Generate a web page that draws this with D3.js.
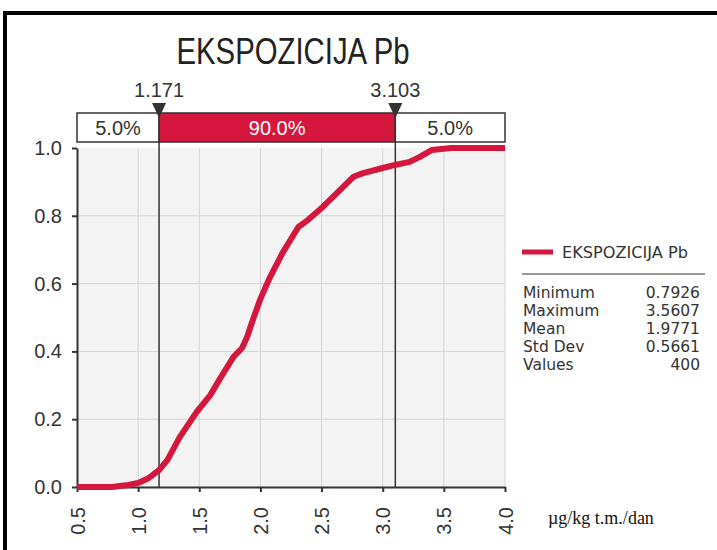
<!DOCTYPE html>
<html>
<head>
<meta charset="utf-8">
<script src="https://cdn.jsdelivr.net/npm/d3@7"></script>
<style>
  body { margin: 0; background: #fff; }
  svg { display: block; font-family: "Liberation Sans", Arial, sans-serif; }
</style>
</head>
<body>
<svg id="chart" width="717" height="550"></svg>
<script>
// cumulative curve
const cdfX = [0.5, 0.79, 0.85, 0.92, 1.0, 1.08, 1.171, 1.24, 1.34, 1.42, 1.48, 1.59, 1.67, 1.78, 1.85, 1.89, 1.94, 2.0, 2.08, 2.18, 2.31, 2.39, 2.51, 2.65, 2.76, 2.84, 3.0, 3.1, 3.22, 3.30, 3.40, 3.48, 3.56, 4.0];
const cdfP = [0, 0, 0.003, 0.006, 0.012, 0.025, 0.05, 0.08, 0.147, 0.19, 0.222, 0.271, 0.32, 0.384, 0.41, 0.442, 0.495, 0.555, 0.62, 0.69, 0.767, 0.788, 0.826, 0.876, 0.915, 0.926, 0.941, 0.95, 0.959, 0.973, 0.994, 0.997, 1.0, 1.0];

const markers = [1.171, 3.103];
const bandLabels = ["5.0%", "90.0%", "5.0%"];
const xTicks = [0.5, 1.0, 1.5, 2.0, 2.5, 3.0, 3.5, 4.0];
const yTicks = [0.0, 0.2, 0.4, 0.6, 0.8, 1.0];

const statNames = ["Minimum", "Maximum", "Mean", "Std Dev", "Values"];
const statValues = ["0.7926", "3.5607", "1.9771", "0.5661", "400"];

const title = "EKSPOZICIJA Pb";
const unit = "µg/kg t.m./dan";

const red = "#d5173d";
const dark = "#333";

var svg = d3.select("#chart");

var x = d3.scaleLinear().domain([0.5, 4.0]).range([77, 505]);
var y = d3.scaleLinear().domain([0, 1]).range([487, 148]);

// frame (top and left only)
svg.append("line").attr("x1", 3).attr("x2", 717).attr("y1", 13).attr("y2", 13)
    .attr("stroke", "#000").attr("stroke-width", 4);
svg.append("line").attr("x1", 5).attr("x2", 5).attr("y1", 11).attr("y2", 550)
    .attr("stroke", "#000").attr("stroke-width", 4);

// title
svg.append("text")
    .attr("x", 293).attr("y", 64)
    .attr("text-anchor", "middle")
    .attr("font-size", 37)
    .attr("textLength", 233)
    .attr("lengthAdjust", "spacingAndGlyphs")
    .attr("fill", "#222")
    .text(title);

// plot background and grid
svg.append("rect")
    .attr("x", x(0.5)).attr("y", y(1))
    .attr("width", x(4) - x(0.5)).attr("height", y(0) - y(1))
    .attr("fill", "#f3f3f3");

svg.append("g").selectAll("line")
    .data(xTicks.slice(1))
    .join("line")
    .attr("x1", d => x(d)).attr("x2", d => x(d))
    .attr("y1", y(1)).attr("y2", y(0))
    .attr("stroke", "#d3d3d3").attr("stroke-width", 1);

svg.append("g").selectAll("line")
    .data(yTicks.slice(1, -1))
    .join("line")
    .attr("x1", x(0.5)).attr("x2", x(4))
    .attr("y1", d => y(d)).attr("y2", d => y(d))
    .attr("stroke", "#d3d3d3").attr("stroke-width", 1);

// axes
var yAxis = svg.append("g")
    .attr("transform", "translate(" + x(0.5) + ",0)")
    .call(d3.axisLeft(y).tickValues(yTicks).tickFormat(d3.format(".1f")).tickSize(5).tickPadding(10).tickSizeOuter(0));
yAxis.select(".domain").attr("stroke", dark).attr("stroke-width", 2);
yAxis.selectAll(".tick line").attr("stroke", dark).attr("stroke-width", 2);
yAxis.selectAll(".tick text").attr("font-size", 20).attr("fill", dark)
    .attr("font-family", "Liberation Sans, Arial, sans-serif");

var xAxis = svg.append("g")
    .attr("transform", "translate(0," + y(0) + ")")
    .call(d3.axisBottom(x).tickValues(xTicks).tickFormat(d3.format(".1f")).tickSize(5).tickSizeOuter(0));
xAxis.select(".domain").attr("stroke", dark).attr("stroke-width", 2);
xAxis.selectAll(".tick line").attr("stroke", dark).attr("stroke-width", 2);
xAxis.selectAll(".tick text")
    .attr("font-size", 20).attr("fill", dark)
    .attr("font-family", "Liberation Sans, Arial, sans-serif")
    .attr("text-anchor", "end")
    .attr("transform", "rotate(-90)")
    .attr("x", -20).attr("y", 0).attr("dy", "0.35em");

// percentile markers
svg.append("g").selectAll("line")
    .data(markers)
    .join("line")
    .attr("x1", d => x(d)).attr("x2", d => x(d))
    .attr("y1", 142).attr("y2", y(0))
    .attr("stroke", dark).attr("stroke-width", 1.5);

// cumulative curve
var pts = cdfX.map((v, i) => [v, cdfP[i]]);
svg.append("path")
    .datum(pts)
    .attr("fill", "none")
    .attr("stroke", red)
    .attr("stroke-width", 6)
    .attr("stroke-linejoin", "round")
    .attr("d", d3.line().x(d => x(d[0])).y(d => y(d[1])));

// band box on top
var edges = [0.5, markers[0], markers[1], 4.0];
var band = svg.append("g");
band.selectAll("rect")
    .data(bandLabels)
    .join("rect")
    .attr("x", (d, i) => x(edges[i]))
    .attr("width", (d, i) => x(edges[i + 1]) - x(edges[i]))
    .attr("y", 113).attr("height", 29)
    .attr("fill", (d, i) => i === 1 ? red : "#fff")
    .attr("stroke", dark).attr("stroke-width", 1.5);
band.selectAll("text")
    .data(bandLabels)
    .join("text")
    .attr("x", (d, i) => (x(edges[i]) + x(edges[i + 1])) / 2)
    .attr("y", 135)
    .attr("text-anchor", "middle")
    .attr("font-size", 20)
    .attr("fill", (d, i) => i === 1 ? "#fff" : dark)
    .text(d => d);

// marker labels and triangles
svg.append("g").selectAll("text")
    .data(markers)
    .join("text")
    .attr("x", d => x(d)).attr("y", 97)
    .attr("text-anchor", "middle")
    .attr("font-size", 20)
    .attr("fill", dark)
    .text(d => d3.format(".3f")(d));

svg.append("g").selectAll("path")
    .data(markers)
    .join("path")
    .attr("d", d => "M" + (x(d) - 7) + ",103L" + (x(d) + 7) + ",103L" + x(d) + ",118Z")
    .attr("fill", dark);

// legend
var leg = svg.append("g").attr("font-family", "DejaVu Sans, sans-serif");
leg.append("line").attr("x1", 522).attr("x2", 553).attr("y1", 252).attr("y2", 252)
    .attr("stroke", red).attr("stroke-width", 5);
leg.append("text").attr("x", 562).attr("y", 258)
    .attr("font-size", 16).attr("fill", dark)
    .attr("textLength", 126).attr("lengthAdjust", "spacingAndGlyphs")
    .text(title);
leg.append("line").attr("x1", 522).attr("x2", 705).attr("y1", 274).attr("y2", 274)
    .attr("stroke", "#999").attr("stroke-width", 2);

var rowY = d3.scalePoint().domain(statNames).range([298, 370]);
leg.selectAll(".sname")
    .data(statNames)
    .join("text")
    .attr("class", "sname")
    .attr("x", 523).attr("y", d => rowY(d))
    .attr("font-size", 15.5).attr("fill", dark)
    .text(d => d);
leg.selectAll(".sval")
    .data(statValues)
    .join("text")
    .attr("class", "sval")
    .attr("x", 700).attr("y", (d, i) => rowY(statNames[i]))
    .attr("text-anchor", "end")
    .attr("font-size", 15.5).attr("fill", dark)
    .text(d => d);

// unit
svg.append("text")
    .attr("x", 548).attr("y", 524)
    .attr("font-family", "Liberation Serif, Times New Roman, serif")
    .attr("font-size", 18).attr("fill", "#111")
    .text(unit);
</script>
</body>
</html>
